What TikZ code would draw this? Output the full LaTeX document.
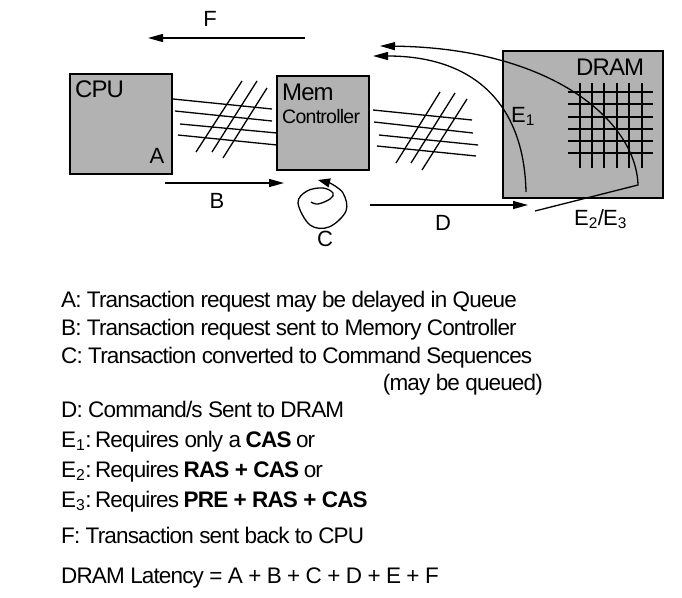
\documentclass[tikz,border=0pt]{standalone}
\usepackage{fontspec}
\setmainfont{Liberation Sans}[LetterSpace=-3.8]
\usetikzlibrary{arrows.meta}
\begin{document}
\begin{tikzpicture}[x=1pt,y=-1pt,
  box/.style={draw=black,line width=1.6pt,fill=black!30,inner sep=0pt},
  wire/.style={line width=1.3pt},
  arr/.style={line width=1.3pt,-{Triangle[length=15pt,width=8pt]}},
  lbl/.style={inner sep=0pt,font=\fontsize{22}{26}\selectfont},
  big/.style={inner sep=0pt,font=\fontsize{24}{28}\selectfont},
  leg/.style={inner sep=0pt,anchor=base west,font=\fontsize{22.5}{27}\selectfont}]
\useasboundingbox (0,0) rectangle (682,597);
% boxes
\node[box,minimum width=102pt,minimum height=100pt] (cpu) at (121,124) {};
\node[box,minimum width=92pt,minimum height=94pt] (mem) at (323,123) {};
\node[box,minimum width=160pt,minimum height=147pt] (dram) at (583,124.5) {};
\node[big,anchor=base west] (cpulbl) at (75,97) {CPU};
\node[lbl,anchor=base] (alab) at (157,163) {A};
\node[big,anchor=base west] (memlbl) at (282,100) {Mem};
\node[inner sep=0pt,anchor=base west,font=\fontsize{19.5}{23}\selectfont] (ctrl) at (282,123) {Controller};
\node[big,anchor=base west] (dramlbl) at (576,75) {DRAM};
% DRAM grid
\foreach \gx in {580,592,604,617,629,642} \draw[wire] (\gx,83) -- (\gx,168);
\foreach \gy in {92,104,117,129,141,153} \draw[wire] (568,\gy) -- (653,\gy);
% bus CPU - Mem
\draw[wire] (173,99) -- (272,109);
\draw[wire] (175,111) -- (272,121);
\draw[wire] (180,124) -- (277,133);
\draw[wire] (178,135) -- (277,145);
\draw[wire] (196,152) -- (242,81);
\draw[wire] (212,152) -- (257,81);
\draw[wire] (223,158) -- (267,88);
% bus Mem - DRAM
\draw[wire] (373,110) -- (472,120);
\draw[wire] (374,122) -- (473,133);
\draw[wire] (379,135) -- (478,145);
\draw[wire] (377,146) -- (476,156);
\draw[wire] (396,163) -- (440,92);
\draw[wire] (411,163) -- (455,93);
\draw[wire] (422,170) -- (467,99);
% F arrow
\coordinate (fs) at (305,38); \coordinate (fe) at (148,38);
\draw[arr] (fs) -- (fe);
\node[lbl,anchor=base] (flab) at (210,27) {F};
% B arrow
\coordinate (bs) at (165,183); \coordinate (be) at (284,183);
\draw[arr] (bs) -- (be);
\node[lbl,anchor=base] (blab) at (217,208) {B};
% C spiral
\draw[line width=1.3pt,-{Triangle[length=12pt,width=9pt]}] plot[smooth,tension=0.6] coordinates
  {(311,202) (318,204) (330,199) (333,193) (323,188) (307,191) (298,203) (310,225) (329,227) (346,211) (343,193) (330,183)}
  -- (318,180);
\node[lbl,anchor=base] (clab) at (325,246) {C};
% D arrow
\coordinate (ds) at (370,205); \coordinate (de) at (528,205);
\draw[arr] (ds) -- (de);
\node[lbl,anchor=base] (dlab) at (443,230) {D};
% E1 curve
\coordinate (e1s) at (526,192); \coordinate (e1e) at (373,56);
\draw[arr] (e1s) .. controls (524,100) and (470,56) .. (e1e);
\node[lbl,anchor=base west] (e1lab) at (511,122) {E\textsubscript{1}};
% E2/E3 curve
\coordinate (e2s) at (535,211); \coordinate (e2m) at (638,185); \coordinate (e2e) at (380,46);
\draw[arr] (e2s) -- (e2m) .. controls (636,120) and (550,48) .. (e2e);
\node[lbl,anchor=base west] (e2lab) at (574,225) {E\textsubscript{2}/E\textsubscript{3}};
% legend
\node[leg] (la) at (61,307) {A: Transaction request may be delayed in Queue};
\node[leg] (lb) at (61,335) {B: Transaction request sent to Memory Controller};
\node[leg] (lc) at (61,363) {C: Transaction converted to Command Sequences};
\node[inner sep=0pt,anchor=base east,font=\fontsize{22.5}{27}\selectfont] (lq) at (543,390) {(may be queued)};
\node[leg] (ld) at (61,417) {D: Command/s Sent to DRAM};
\node[leg] (le1) at (61,447) {E\textsubscript{1}:\hspace{0.15em}Requires only a \textbf{CAS} or};
\node[leg] (le2) at (61,477) {E\textsubscript{2}:\hspace{0.15em}Requires \textbf{RAS + CAS} or};
\node[leg] (le3) at (61,507) {E\textsubscript{3}:\hspace{0.15em}Requires \textbf{PRE + RAS + CAS}};
\node[leg] (lf) at (61,543) {F: Transaction sent back to CPU};
\node[leg] (ll) at (61,583) {DRAM Latency = A + B + C + D + E + F};
\end{tikzpicture}
\end{document}
